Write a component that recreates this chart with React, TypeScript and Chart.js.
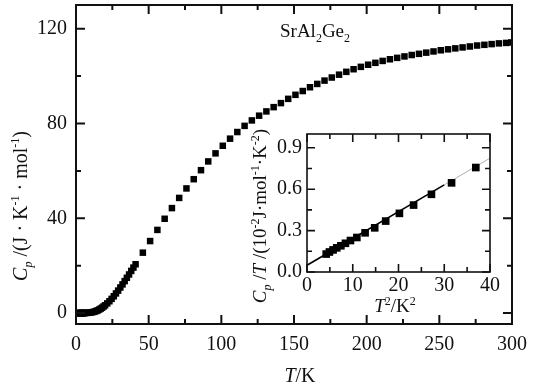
import React, { useEffect, useRef } from 'react';
import { Chart, registerables } from 'chart.js';
Chart.register(...registerables);

const FONT = '"Liberation Serif", "Times New Roman", serif';
const INK = '#111';

// ---- main curve: Cp (J K^-1 mol^-1) vs T (K)
const mainT = [
  2.05, 2.26, 2.49, 2.66, 2.86, 3.05, 3.3, 3.56, 3.85, 4.15, 4.49, 4.83, 5.2, 5.62, 6.07,
  7, 8, 9, 10, 11, 12, 13, 14, 15, 16, 17, 18, 19,
  20, 21.5, 23, 24.5, 26, 27.5, 29, 30.5, 32, 33.5, 35, 36.5, 38, 39.5, 41,
  46, 51, 56, 61, 66, 71, 76, 81, 86, 91,
  96, 101, 106, 111, 116, 121, 126, 131, 136, 141,
  146, 151, 156, 161, 166, 171, 176, 181, 186, 191,
  196, 201, 206, 211, 216, 221, 226, 231, 236, 241,
  246, 251, 256, 261, 266, 271, 276, 281, 286, 291, 296, 299.5,
];
const mainCp = [
  0.003, 0.003, 0.004, 0.005, 0.006, 0.007, 0.008, 0.01, 0.012, 0.015, 0.019, 0.023, 0.029, 0.036, 0.046,
  0.07, 0.11, 0.17, 0.25, 0.36, 0.5, 0.68, 0.9, 1.17, 1.5, 1.9, 2.3, 2.8,
  3.3, 4.1, 5.0, 6.0, 7.1, 8.3, 9.5, 10.8, 12.1, 13.5, 14.9, 16.3, 17.8, 19.2, 20.6,
  25.5, 30.4, 35.1, 39.8, 44.3, 48.6, 52.6, 56.5, 60.3, 64.0,
  67.4, 70.6, 73.6, 76.4, 79.0, 81.3, 83.3, 85.1, 86.9, 88.6,
  90.4, 92.1, 93.7, 95.3, 96.7, 98.1, 99.4, 100.6, 101.8, 102.9,
  103.9, 104.8, 105.6, 106.4, 107.1, 107.7, 108.3, 108.9, 109.4, 109.9,
  110.4, 110.9, 111.3, 111.7, 112.1, 112.5, 112.9, 113.2, 113.5, 113.8, 114.0, 114.2,
];

// ---- inset: Cp/T vs T^2
const insetT2 = [4.2, 4.9, 5.7, 6.5, 7.4, 8.4, 9.5, 10.9, 12.7, 14.8, 17.2, 20.2, 23.3, 27.2, 31.6, 36.9];
const insetCpT = [0.13, 0.145, 0.16, 0.175, 0.19, 0.208, 0.228, 0.25, 0.284, 0.32, 0.369, 0.425, 0.485, 0.563, 0.646, 0.757];
const fitX = [0, 30];
const fitY = [0.049, 0.631];
const extX = [30, 40];
const extY = [0.631, 0.825];

// ---- ticks
const mainXMajor = [0, 50, 100, 150, 200, 250, 300];
const mainXMinor = [25, 75, 125, 175, 225, 275];
const mainYMajor = [0, 40, 80, 120];
const mainYMinor = [20, 60, 100];
const insetXMajor = [0, 10, 20, 30, 40];
const insetXMinor = [5, 15, 25, 35];
const insetYMajor = [0, 0.3, 0.6, 0.9];
const insetYMinor = [0.15, 0.45, 0.75];

type Seg = { t: string; it?: boolean; pos?: 'sub' | 'sup' };

function drawRich(ctx: CanvasRenderingContext2D, segs: Seg[], size: number, x: number, y: number, align: 'left' | 'center', rotate = false) {
  ctx.save();
  ctx.translate(x, y);
  if (rotate) ctx.rotate(-Math.PI / 2);
  const fontFor = (s: Seg) => `${s.it ? 'italic ' : ''}${s.pos ? Math.round(size * 0.62) : size}px ${FONT}`;
  let total = 0;
  const widths = segs.map((s) => {
    ctx.font = fontFor(s);
    const w = ctx.measureText(s.t).width;
    total += w;
    return w;
  });
  let cx = align === 'center' ? -total / 2 : 0;
  ctx.fillStyle = INK;
  ctx.textBaseline = 'alphabetic';
  ctx.textAlign = 'left';
  segs.forEach((s, i) => {
    ctx.font = fontFor(s);
    const dy = s.pos === 'sub' ? size * 0.25 : s.pos === 'sup' ? -size * 0.38 : 0;
    ctx.fillText(s.t, cx, dy);
    cx += widths[i];
  });
  ctx.restore();
}

function frame(opts: {
  xMajor: number[]; xMinor: number[]; yMajor: number[]; yMinor: number[];
  maj: number; min: number; lw: number; texts: (ctx: CanvasRenderingContext2D) => void;
}) {
  return {
    id: 'frame',
    afterDraw(chart: any) {
      const { ctx, chartArea: a, scales } = chart;
      const xs = scales.x;
      const ys = scales.y;
      ctx.save();
      ctx.strokeStyle = INK;
      ctx.lineWidth = opts.lw;
      ctx.beginPath();
      const vt = (v: number, len: number) => {
        const p = xs.getPixelForValue(v);
        ctx.moveTo(p, a.bottom);
        ctx.lineTo(p, a.bottom - len);
        ctx.moveTo(p, a.top);
        ctx.lineTo(p, a.top + len);
      };
      const ht = (v: number, len: number) => {
        const p = ys.getPixelForValue(v);
        ctx.moveTo(a.left, p);
        ctx.lineTo(a.left + len, p);
        ctx.moveTo(a.right, p);
        ctx.lineTo(a.right - len, p);
      };
      opts.xMajor.forEach((v) => vt(v, opts.maj));
      opts.xMinor.forEach((v) => vt(v, opts.min));
      opts.yMajor.forEach((v) => ht(v, opts.maj));
      opts.yMinor.forEach((v) => ht(v, opts.min));
      ctx.stroke();
      ctx.strokeRect(a.left, a.top, a.right - a.left, a.bottom - a.top);
      ctx.restore();
      opts.texts(ctx);
    },
  };
}

const zeroPad = (s: any) => {
  s.paddingTop = 0;
  s.paddingBottom = 0;
  s.paddingLeft = 0;
  s.paddingRight = 0;
};

export default function App() {
  const mainRef = useRef<HTMLCanvasElement>(null);
  const insetRef = useRef<HTMLCanvasElement>(null);

  useEffect(() => {
    const main = new Chart(mainRef.current as HTMLCanvasElement, {
      type: 'scatter',
      data: {
        datasets: [
          {
            data: mainT.map((t, i) => ({ x: t, y: mainCp[i] })),
            pointStyle: 'rect',
            pointRadius: 4.6,
            backgroundColor: '#000',
            borderWidth: 0,
            showLine: false,
          },
        ],
      },
      options: {
        animation: false,
        responsive: false,
        devicePixelRatio: 1,
        events: [],
        layout: { padding: { top: 5, right: 33, left: 0, bottom: 0 } },
        plugins: { legend: { display: false }, tooltip: { enabled: false } },
        scales: {
          x: {
            type: 'linear',
            min: 0,
            max: 300,
            grid: { display: false, drawTicks: false, tickLength: 0 },
            border: { display: false },
            ticks: { font: { family: FONT, size: 20 }, color: INK, padding: 9, maxRotation: 0, autoSkip: false },
            afterBuildTicks: (s: any) => { s.ticks = mainXMajor.map((v) => ({ value: v })); },
            afterFit: (s: any) => { s.height = 66; zeroPad(s); },
          },
          y: {
            type: 'linear',
            min: -4.6,
            max: 130,
            grid: { display: false, drawTicks: false, tickLength: 0 },
            border: { display: false },
            ticks: { font: { family: FONT, size: 20 }, color: INK, padding: 9, autoSkip: false },
            afterBuildTicks: (s: any) => { s.ticks = mainYMajor.map((v) => ({ value: v })); },
            afterFit: (s: any) => { s.width = 76; zeroPad(s); },
          },
        },
      },
      plugins: [
        frame({
          xMajor: mainXMajor, xMinor: mainXMinor, yMajor: mainYMajor, yMinor: mainYMinor,
          maj: 9, min: 5, lw: 2,
          texts: (ctx) => {
            drawRich(ctx, [{ t: 'T', it: true }, { t: '/K' }], 20, 300, 382, 'center');
            drawRich(
              ctx,
              [
                { t: 'C', it: true }, { t: 'p', it: true, pos: 'sub' }, { t: ' /(J · K' }, { t: '-1', pos: 'sup' },
                { t: ' · mol' }, { t: '-1', pos: 'sup' }, { t: ')' },
              ],
              20, 27, 206, 'center', true,
            );
            drawRich(ctx, [{ t: 'SrAl' }, { t: '2', pos: 'sub' }, { t: 'Ge' }, { t: '2', pos: 'sub' }], 19, 280, 37, 'left');
          },
        }) as any,
      ],
    } as any);

    const inset = new Chart(insetRef.current as HTMLCanvasElement, {
      type: 'scatter',
      data: {
        datasets: [
          {
            data: insetT2.map((t, i) => ({ x: t, y: insetCpT[i] })),
            pointStyle: 'rect',
            pointRadius: 5.4,
            backgroundColor: '#000',
            borderWidth: 0,
            showLine: false,
          },
          {
            data: fitX.map((x, i) => ({ x, y: fitY[i] })),
            showLine: true,
            borderColor: '#000',
            borderWidth: 1.6,
            pointRadius: 0,
          },
          {
            data: extX.map((x, i) => ({ x, y: extY[i] })),
            showLine: true,
            borderColor: '#b0b0b0',
            borderWidth: 1,
            pointRadius: 0,
          },
        ],
      },
      options: {
        animation: false,
        responsive: false,
        devicePixelRatio: 1,
        events: [],
        layout: { padding: { top: 14, right: 15, left: 0, bottom: 0 } },
        plugins: { legend: { display: false }, tooltip: { enabled: false } },
        scales: {
          x: {
            type: 'linear',
            min: 0,
            max: 40,
            grid: { display: false, drawTicks: false, tickLength: 0 },
            border: { display: false },
            ticks: { font: { family: FONT, size: 20 }, color: INK, padding: 2, maxRotation: 0, autoSkip: false },
            afterBuildTicks: (s: any) => { s.ticks = insetXMajor.map((v) => ({ value: v })); },
            afterFit: (s: any) => { s.height = 58; zeroPad(s); },
          },
          y: {
            type: 'linear',
            min: 0,
            max: 1.0,
            grid: { display: false, drawTicks: false, tickLength: 0 },
            border: { display: false },
            ticks: {
              font: { family: FONT, size: 20 }, color: INK, padding: 5, autoSkip: false,
              callback: (v: any) => Number(v).toFixed(1),
            },
            afterBuildTicks: (s: any) => { s.ticks = insetYMajor.map((v) => ({ value: v })); },
            afterFit: (s: any) => { s.width = 72; zeroPad(s); },
          },
        },
      },
      plugins: [
        frame({
          xMajor: insetXMajor, xMinor: insetXMinor, yMajor: insetYMajor, yMinor: insetYMinor,
          maj: 8, min: 5, lw: 1.6,
          texts: (ctx) => {
            drawRich(ctx, [{ t: 'T', it: true }, { t: '2', pos: 'sup' }, { t: '/K' }, { t: '2', pos: 'sup' }], 19, 160, 192, 'center');
            drawRich(
              ctx,
              [
                { t: 'C', it: true }, { t: 'p', it: true, pos: 'sub' }, { t: ' /' }, { t: 'T', it: true }, { t: ' /(10' },
                { t: '-2', pos: 'sup' }, { t: 'J·mol' }, { t: '-1', pos: 'sup' }, { t: '·K' }, { t: '-2', pos: 'sup' }, { t: ')' },
              ],
              19, 31, 96, 'center', true,
            );
          },
        }) as any,
      ],
    } as any);

    return () => {
      main.destroy();
      inset.destroy();
    };
  }, []);

  return (
    <div style={{ position: 'absolute', left: 0, top: 0, width: 545, height: 390, background: '#fff' }}>
      <canvas ref={mainRef} width={545} height={390} style={{ position: 'absolute', left: 0, top: 0, display: 'block' }} />
      <canvas ref={insetRef} width={270} height={210} style={{ position: 'absolute', left: 235, top: 120, display: 'block' }} />
    </div>
  );
}
